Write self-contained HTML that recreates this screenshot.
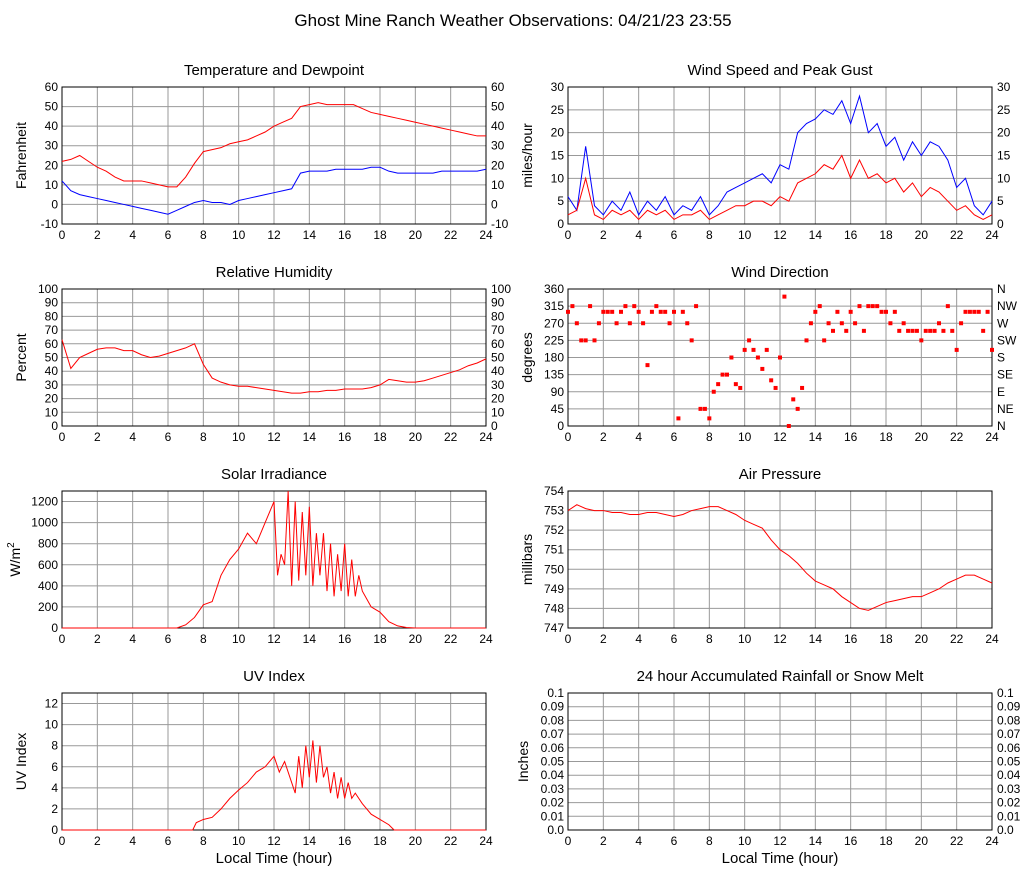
<!DOCTYPE html>
<html><head><meta charset="utf-8"><style>
body{margin:0;background:#fff;}
svg text{font-family:"Liberation Sans",sans-serif;fill:#000;}
</style></head><body>
<svg id="c" width="1027" height="878" xmlns="http://www.w3.org/2000/svg">
<text x="513" y="26" font-size="17" text-anchor="middle">Ghost Mine Ranch Weather Observations: 04/21/23 23:55</text>
</svg>
<script>
const halfHours = Array.from({length:49},(_,i)=>i*0.5);
const tempVals=[22,23,25,22,19,17,14,12,12,12,11,10,9,9,14,21,27,28,29,31,32,33,35,37,40,42,44,50,51,52,51,51,51,51,49,47,46,45,44,43,42,41,40,39,38,37,36,35,35];
const dewVals=[12,7,5,4,3,2,1,0,-1,-2,-3,-4,-5,-3,-1,1,2,1,1,0,2,3,4,5,6,7,8,16,17,17,17,18,18,18,18,19,19,17,16,16,16,16,16,17,17,17,17,17,18];
const gustVals=[6,3,17,4,2,5,3,7,2,5,3,6,2,4,3,6,2,4,7,8,9,10,11,9,13,12,20,22,23,25,24,27,22,28,20,22,17,19,14,18,15,18,17,14,8,10,4,2,5];
const windVals=[2,3,10,2,1,3,2,3,1,3,2,3,1,2,2,3,1,2,3,4,4,5,5,4,6,5,9,10,11,13,12,15,10,14,10,11,9,10,7,9,6,8,7,5,3,4,2,1,2];
const rhVals=[63,42,50,53,56,57,57,55,55,52,50,51,53,55,57,60,45,35,32,30,29,29,28,27,26,25,24,24,25,25,26,26,27,27,27,28,30,34,33,32,32,33,35,37,39,41,44,46,49];
const dirVals=[300,315,270,225, 225,315,225,270, 300,300,300,270, 300,315,270,315, 300,270,160,300, 315,300,300,270, 300,20,300,270, 225,315,45,45, 20,90,110,135, 135,180,110,100, 200,225,200,180, 150,200,120,100, 180,340,0,70, 45,100,225,270, 300,315,225,270, 250,300,270,250, 300,270,315,250, 315,315,315,300, 300,270,300,250, 270,250,250,250, 225,250,250,250, 270,250,315,250, 200,270,300,300, 300,300,250,300, 200];
const solarHours=[0,6.5,7,7.5,8,8.5,9,9.5,10,10.5,11,11.5,12,12.2,12.4,12.6,12.8,13,13.2,13.4,13.6,13.8,14,14.2,14.4,14.6,14.8,15,15.2,15.4,15.6,15.8,16,16.2,16.4,16.6,16.8,17,17.5,18,18.5,19,19.5,20,24];
const solarVals=[0,0,30,100,220,250,500,650,750,900,800,1000,1200,500,700,600,1300,400,1200,450,1100,500,1150,400,900,500,900,350,800,300,700,350,800,300,650,300,500,350,200,150,60,20,5,0,0];
const uvHours=[0,7.4,7.6,8,8.5,9,9.5,10,10.5,11,11.5,12,12.3,12.6,13,13.2,13.4,13.6,13.8,14,14.2,14.4,14.6,14.8,15,15.2,15.4,15.6,15.8,16,16.2,16.4,16.6,17,17.5,18,18.5,18.8,24];
const uvVals=[0,0,0.7,1,1.2,2,3,3.8,4.5,5.5,6,7,5.5,6.5,4.5,3.5,7,4,8,5,8.5,4.5,8,5,6,3.5,5.5,3,5,3,4.5,3,3.5,2.5,1.5,1,0.5,0,0];
const pressVals=[753,753.3,753.1,753,753,752.9,752.9,752.8,752.8,752.9,752.9,752.8,752.7,752.8,753,753.1,753.2,753.2,753,752.8,752.5,752.3,752.1,751.5,751,750.7,750.3,749.8,749.4,749.2,749,748.6,748.3,748,747.9,748.1,748.3,748.4,748.5,748.6,748.6,748.8,749,749.3,749.5,749.7,749.7,749.5,749.3];
const xTicks=[0,2,4,6,8,10,12,14,16,18,20,22,24];
const dirLabels=['N','NE','E','SE','S','SW','W','NW','N'];

const svg=document.getElementById('c');
const NS='http://www.w3.org/2000/svg';
function el(tag,attrs,parent){const e=document.createElementNS(NS,tag);for(const k in attrs)e.setAttribute(k,attrs[k]);(parent||svg).appendChild(e);return e;}

function panel(o){
  const g=el('g',{});
  
  
  const L=o.x,R=o.x+424,T=o.y,B=o.y+137;
  const sx=h=>L+h/24*424, sy=v=>B-(v-o.min)/(o.max-o.min)*137;
  const t=el('text',{x:(L+R)/2,y:T-12,'font-size':15,'text-anchor':'middle'},g);t.textContent=o.title;
  
  xTicks.forEach(h=>{el('line',{x1:sx(h),x2:sx(h),y1:T,y2:B,stroke:'#999','stroke-width':1},g);
    const tx=el('text',{x:sx(h),y:B+15,'font-size':12,'text-anchor':'middle'},g);tx.textContent=h;
    });
  o.ticks.forEach((v,i)=>{el('line',{x1:L,x2:R,y1:sy(v),y2:sy(v),stroke:'#999','stroke-width':1},g);
    const lab=o.labels?o.labels[i]:v;
    const a=el('text',{x:L-4,y:sy(v)+4,'font-size':12,'text-anchor':'end'},g);a.textContent=lab;
    
    if(o.right){const b=el('text',{x:R+5,y:sy(v)+4,'font-size':12},g);b.textContent=o.right==='dir'?dirLabels[i]:lab;
      }});
  el('rect',{x:L,y:T,width:424,height:137,fill:'none',stroke:'#000','stroke-width':1},g);
  const yl=el('text',{x:0,y:0,'font-size':14,'text-anchor':'middle',transform:`translate(${L-(o.ylOff||36)},${(T+B)/2}) rotate(-90)`},g);
  yl.innerHTML=o.ylabel;
  if(o.xlabel){const xl=el('text',{x:(L+R)/2,y:B+33,'font-size':15,'text-anchor':'middle'},g);xl.textContent='Local Time (hour)';
    }
  (o.series||[]).forEach(s=>{
    if(s.points){s.vals.forEach((v,i)=>{const h=i*24/(s.vals.length-1);
      const r=el('rect',{x:sx(h)-2,y:sy(v)-2,width:4,height:4,fill:s.color},g);
      });return;}
    const hs=s.hours||halfHours;
    const p=el('polyline',{points:s.vals.map((v,i)=>sx(hs[i])+','+sy(v)).join(' '),fill:'none',stroke:s.color,'stroke-width':1},g);
    });
}
const R6=(a,b,s)=>{const r=[];for(let v=a;v<=b+1e-9;v+=s)r.push(+v.toFixed(3));return r;};
panel({name:'temperature-panel',x:62,y:87,min:-10,max:60,ticks:R6(-10,60,10),title:'Temperature and Dewpoint',ylabel:'Fahrenheit',right:true,
  series:[{name:'temperature-line',vals:tempVals,color:'#f00'},{name:'dewpoint-line',vals:dewVals,color:'#00f'}]});
panel({name:'wind-speed-panel',x:568,y:87,min:0,max:30,ticks:R6(0,30,5),title:'Wind Speed and Peak Gust',ylabel:'miles/hour',right:true,
  series:[{name:'gust-line',vals:gustVals,color:'#00f'},{name:'wind-line',vals:windVals,color:'#f00'}]});
panel({name:'humidity-panel',x:62,y:289,min:0,max:100,ticks:R6(0,100,10),title:'Relative Humidity',ylabel:'Percent',right:true,
  series:[{name:'humidity-line',vals:rhVals,color:'#f00'}]});
panel({name:'wind-direction-panel',x:568,y:289,min:0,max:360,ticks:R6(0,360,45),title:'Wind Direction',ylabel:'degrees',right:'dir',
  series:[{points:true,vals:dirVals,color:'#f00'}]});
panel({name:'solar-panel',x:62,y:491,min:0,max:1300,ticks:R6(0,1200,200),title:'Solar Irradiance',ylabel:'W/m<tspan dy="-6" font-size="10">2</tspan>',ylOff:42,
  series:[{name:'solar-line',hours:solarHours,vals:solarVals,color:'#f00'}]});
panel({name:'pressure-panel',x:568,y:491,min:747,max:754,ticks:R6(747,754,1),title:'Air Pressure',ylabel:'millibars',
  series:[{name:'pressure-line',vals:pressVals,color:'#f00'}]});
panel({name:'uv-panel',x:62,y:693,min:0,max:13,ticks:R6(0,12,2),title:'UV Index',ylabel:'UV Index',xlabel:true,
  series:[{name:'uv-line',hours:uvHours,vals:uvVals,color:'#f00'}]});
panel({name:'rainfall-panel',x:568,y:693,min:0,max:0.1,ticks:R6(0,0.1,0.01),labels:['0.0','0.01','0.02','0.03','0.04','0.05','0.06','0.07','0.08','0.09','0.1'],title:'24 hour Accumulated Rainfall or Snow Melt',ylabel:'Inches',right:true,ylOff:40,xlabel:true});
</script>
</body></html>
